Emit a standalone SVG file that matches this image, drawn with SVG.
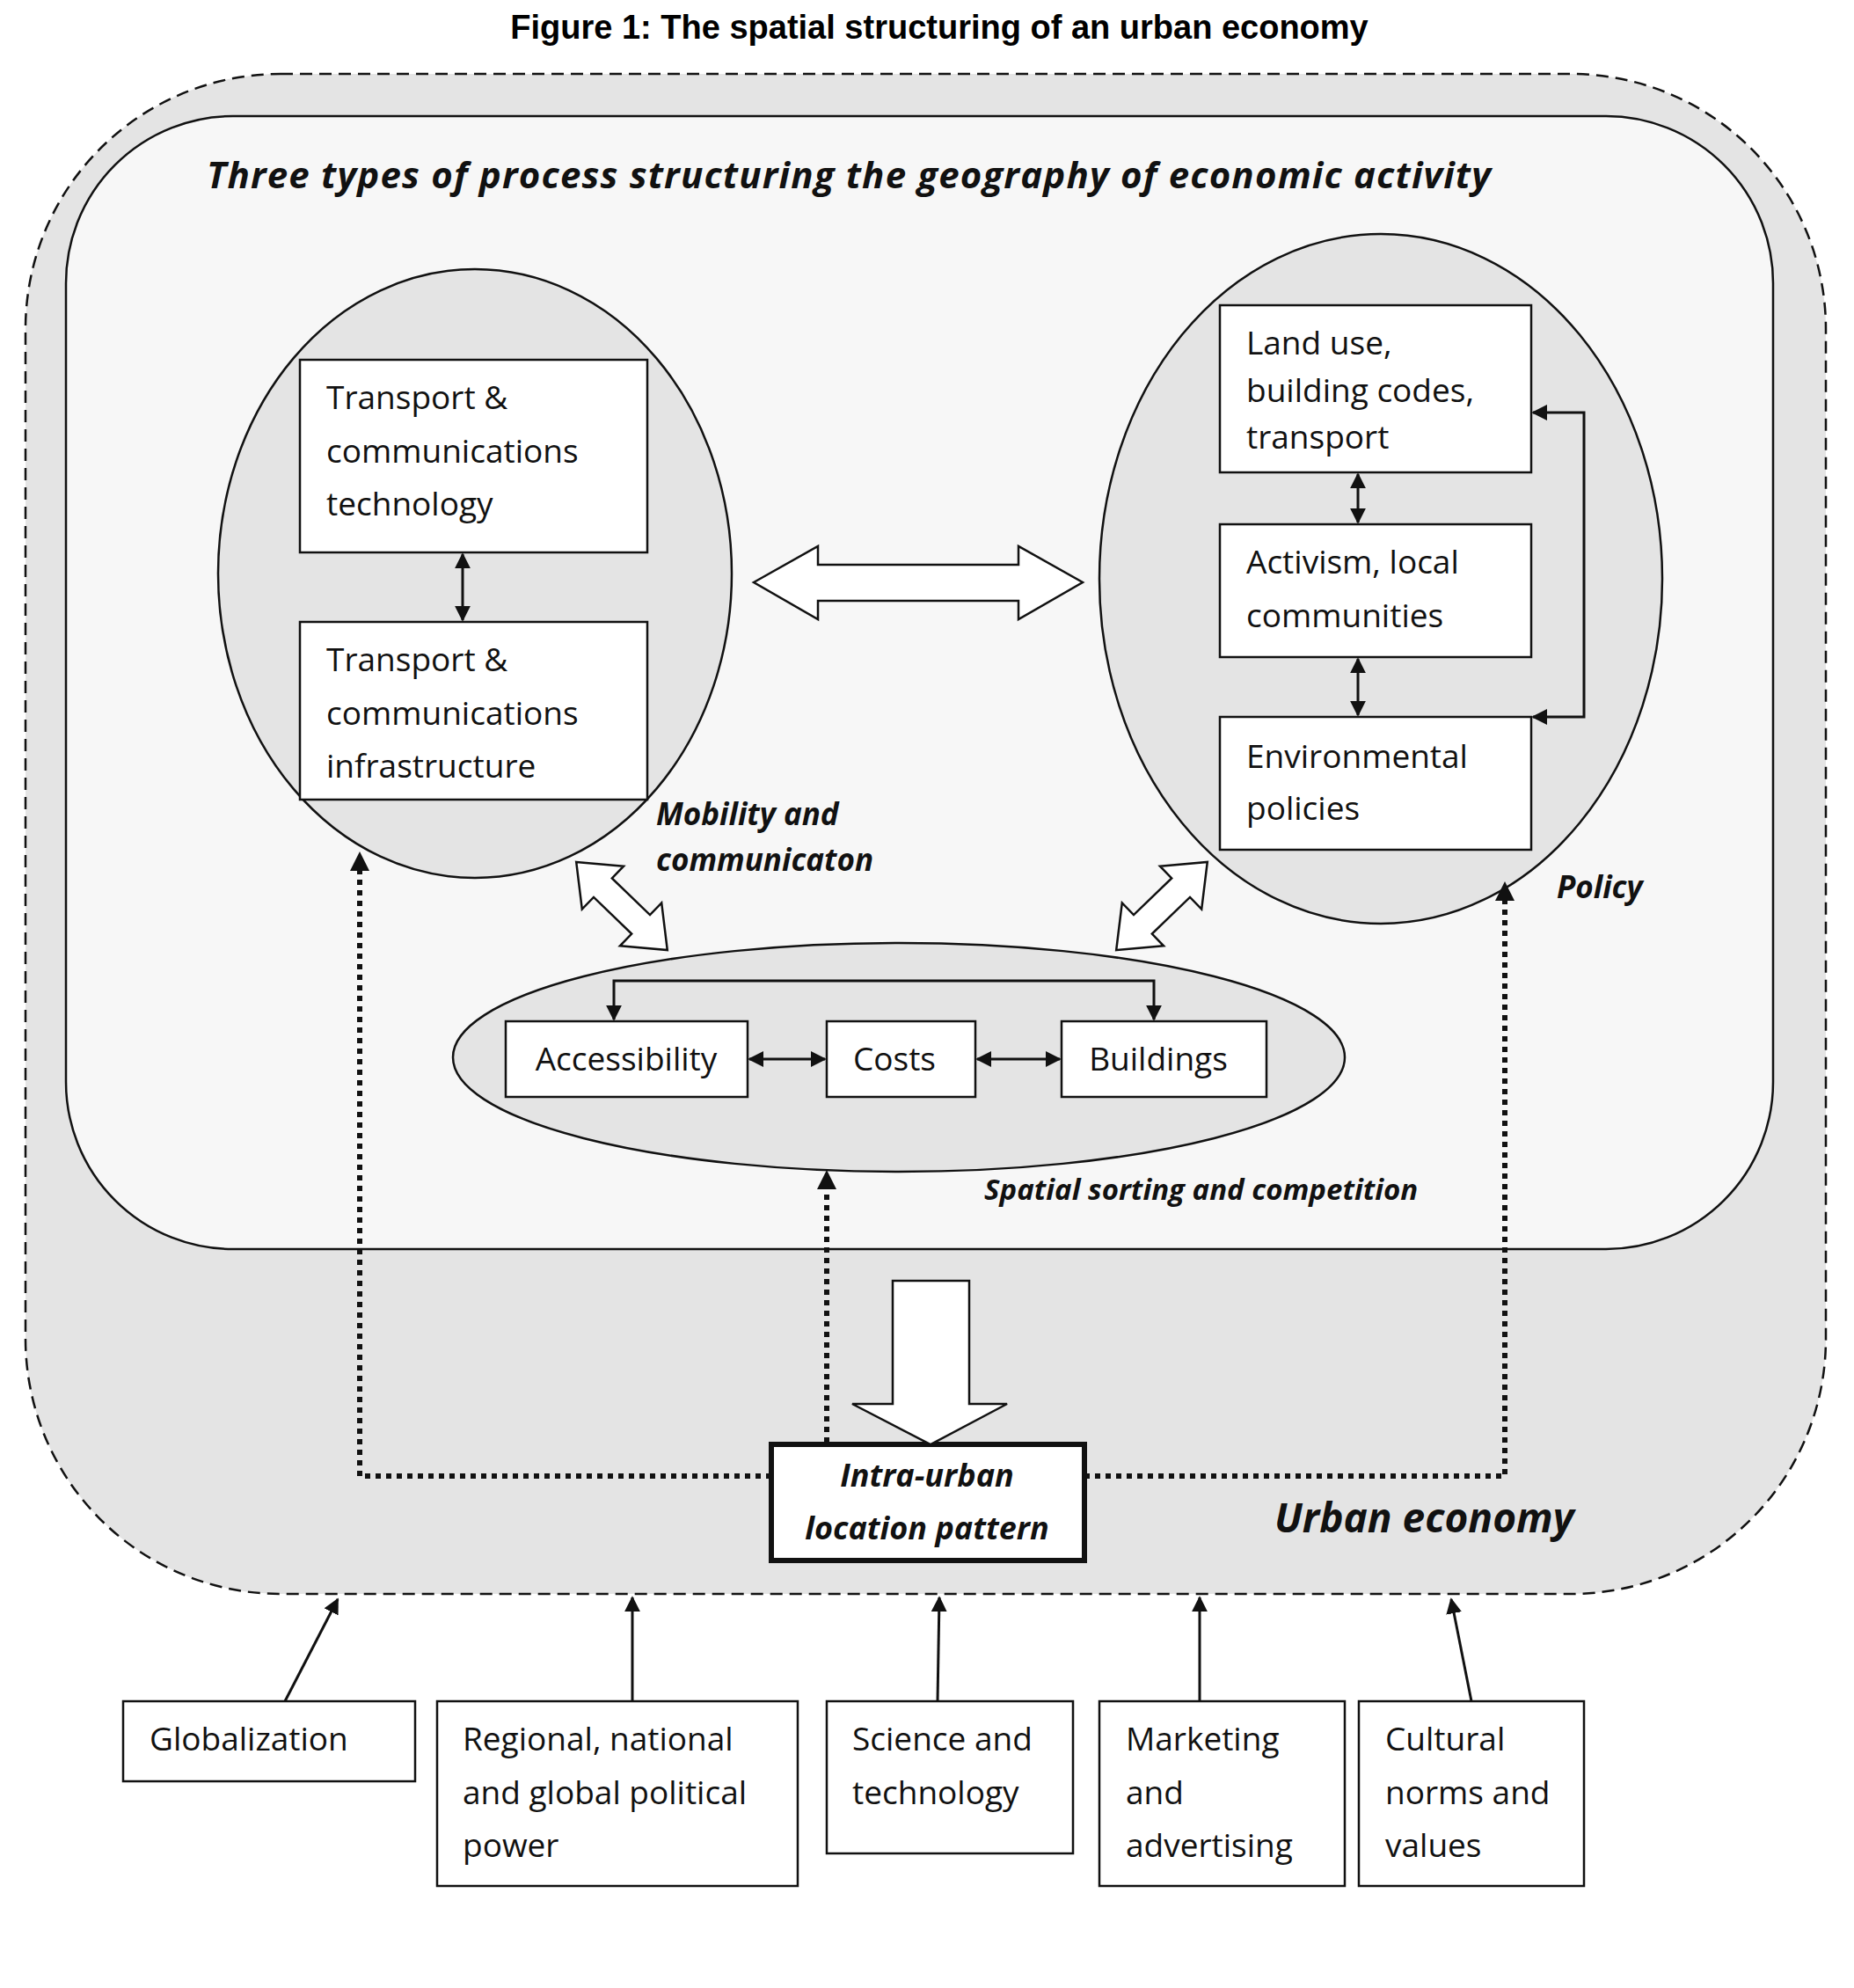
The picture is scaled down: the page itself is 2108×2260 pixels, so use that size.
<svg xmlns="http://www.w3.org/2000/svg" width="2108" height="2260" viewBox="0 0 2108 2260">
<style>
.t{font-family:"Open Sans","Liberation Sans",sans-serif;font-size:37px;fill:#111}
.bi{font-family:"Open Sans","Liberation Sans",sans-serif;font-weight:bold;font-style:italic;fill:#111}
.box{fill:#fff;stroke:#111;stroke-width:2.5}
.ln{stroke:#111;stroke-width:3;fill:none}
.dot{stroke:#111;stroke-width:6;fill:none;stroke-dasharray:6,6}
.hol{fill:#fff;stroke:#111;stroke-width:2.5}
</style>
<defs>
<marker id="ah" viewBox="0 0 10 10" refX="9" refY="5" markerWidth="6" markerHeight="6" orient="auto-start-reverse"><path d="M0,0L10,5L0,10z" fill="#111"/></marker>
</defs>
<rect width="2108" height="2260" fill="#fff"/>
<text x="1068" y="44" text-anchor="middle" font-family="Liberation Sans,Arial,sans-serif" font-weight="bold" font-size="38">Figure 1: The spatial structuring of an urban economy</text>
<g id="urban-economy">
<rect x="29" y="84" width="2047" height="1728" rx="290" fill="#e4e4e4" stroke="#111" stroke-width="2.5" stroke-dasharray="14,8"/>
<text x="1449" y="1742" class="bi" font-size="46">Urban economy</text>
</g>
<g id="processes">
<rect x="75" y="132" width="1941" height="1288" rx="190" fill="#f7f7f7" stroke="#111" stroke-width="2.5"/>
<text x="235" y="214" class="bi" font-size="42" textLength="1460">Three types of process structuring the geography of economic activity</text>
</g>
<g id="mobility">
<ellipse cx="540" cy="652" rx="292" ry="346" fill="#e4e4e4" stroke="#111" stroke-width="2.5"/>
<rect class="box" x="341" y="409" width="395" height="219"/>
<text class="t" x="371" y="465">Transport  &amp;</text><text class="t" x="371" y="526">communications</text><text class="t" x="371" y="586">technology</text>
<rect class="box" x="341" y="707" width="395" height="202"/>
<text class="t" x="371" y="763">Transport  &amp;</text><text class="t" x="371" y="824">communications</text><text class="t" x="371" y="884">infrastructure</text>
<line class="ln" x1="526" y1="630" x2="526" y2="705" marker-start="url(#ah)" marker-end="url(#ah)"/>
<text x="746" y="938" class="bi" font-size="35">Mobility and</text>
<text x="746" y="990" class="bi" font-size="35">communicaton</text>
</g>
<g id="policy">
<ellipse cx="1570" cy="658" rx="320" ry="392" fill="#e4e4e4" stroke="#111" stroke-width="2.5"/>
<rect class="box" x="1387" y="347" width="354" height="190"/>
<text class="t" x="1417" y="403">Land use,</text><text class="t" x="1417" y="457">building codes,</text><text class="t" x="1417" y="510">transport</text>
<rect class="box" x="1387" y="596" width="354" height="151"/>
<text class="t" x="1417" y="652">Activism, local</text><text class="t" x="1417" y="713">communities</text>
<rect class="box" x="1387" y="815" width="354" height="151"/>
<text class="t" x="1417" y="873">Environmental</text><text class="t" x="1417" y="932">policies</text>
<text x="1770" y="1021" class="bi" font-size="35">Policy</text>
</g>
<g id="spatial">
<ellipse cx="1022" cy="1202" rx="507" ry="130" fill="#e4e4e4" stroke="#111" stroke-width="2.5"/>
<rect class="box" x="575" y="1161" width="275" height="86"/>
<text class="t" x="712" y="1217" text-anchor="middle">Accessibility</text>
<rect class="box" x="940" y="1161" width="169" height="86"/>
<text class="t" x="1017" y="1217" text-anchor="middle">Costs</text>
<rect class="box" x="1207" y="1161" width="233" height="86"/>
<text class="t" x="1317" y="1217" text-anchor="middle">Buildings</text>
<text x="1119" y="1364" class="bi" font-size="33">Spatial sorting and competition</text>
</g>
<g id="pattern">
<rect x="877" y="1642" width="356" height="132" fill="#fff" stroke="#111" stroke-width="6"/>
<text x="1054" y="1690" class="bi" font-size="36" text-anchor="middle">Intra-urban</text>
<text x="1054" y="1750" class="bi" font-size="36" text-anchor="middle">location pattern</text>
</g>
<g id="drivers">
<rect class="box" x="140" y="1934" width="332" height="91"/><text class="t" x="170" y="1990">Globalization</text>
<rect class="box" x="497" y="1934" width="410" height="210"/><text class="t" x="526" y="1990">Regional, national</text><text class="t" x="526" y="2051">and global political</text><text class="t" x="526" y="2111">power</text>
<rect class="box" x="940" y="1934" width="280" height="173"/><text class="t" x="969" y="1990">Science and</text><text class="t" x="969" y="2051">technology</text>
<rect class="box" x="1250" y="1934" width="279" height="210"/><text class="t" x="1280" y="1990">Marketing</text><text class="t" x="1280" y="2051">and</text><text class="t" x="1280" y="2111">advertising</text>
<rect class="box" x="1545" y="1934" width="256" height="210"/><text class="t" x="1575" y="1990">Cultural</text><text class="t" x="1575" y="2051">norms and</text><text class="t" x="1575" y="2111">values</text>
</g>
<g id="connectors">
<line class="ln" x1="1544" y1="539" x2="1544" y2="594" marker-start="url(#ah)" marker-end="url(#ah)"/>
<line class="ln" x1="1544" y1="749" x2="1544" y2="813" marker-start="url(#ah)" marker-end="url(#ah)"/>
<polyline class="ln" points="1743,469 1801,469 1801,815 1743,815" marker-start="url(#ah)" marker-end="url(#ah)"/>
<line class="ln" x1="852" y1="1204" x2="938" y2="1204" marker-start="url(#ah)" marker-end="url(#ah)"/>
<line class="ln" x1="1111" y1="1204" x2="1205" y2="1204" marker-start="url(#ah)" marker-end="url(#ah)"/>
<polyline class="ln" points="698,1159 698,1115 1312,1115 1312,1159" marker-start="url(#ah)" marker-end="url(#ah)"/>
<polygon class="hol" points="857,662 930,621 930,642 1158,642 1158,621 1231,662 1158,704 1158,683 930,683 930,704"/>
<g transform="translate(707,1030) rotate(44)"><polygon class="hol" points="-72,0 -30,-34 -30,-15 30,-15 30,-34 72,0 30,34 30,15 -30,15 -30,34"/></g>
<g transform="translate(1321,1030) rotate(-44)"><polygon class="hol" points="-72,0 -30,-34 -30,-15 30,-15 30,-34 72,0 30,34 30,15 -30,15 -30,34"/></g>
<polygon class="hol" points="1015,1456 1102,1456 1102,1596 1145,1596 1058,1642 969,1596 1015,1596"/>
<polyline class="dot" points="877,1678 409,1678 409,985"/>
<path d="M398,990L409,968L420,990z" fill="#111"/>
<polyline class="dot" points="1233,1678 1711,1678 1711,1020"/>
<path d="M1700,1024L1711,1002L1722,1024z" fill="#111"/>
<line class="dot" x1="940" y1="1640" x2="940" y2="1348"/>
<path d="M929,1352L940,1330L951,1352z" fill="#111"/>
<line class="ln" x1="324" y1="1934" x2="384" y2="1818" marker-end="url(#ah)"/>
<line class="ln" x1="719" y1="1934" x2="719" y2="1816" marker-end="url(#ah)"/>
<line class="ln" x1="1066" y1="1934" x2="1068" y2="1816" marker-end="url(#ah)"/>
<line class="ln" x1="1364" y1="1934" x2="1364" y2="1816" marker-end="url(#ah)"/>
<line class="ln" x1="1673" y1="1934" x2="1650" y2="1818" marker-end="url(#ah)"/>
</g>
</svg>
